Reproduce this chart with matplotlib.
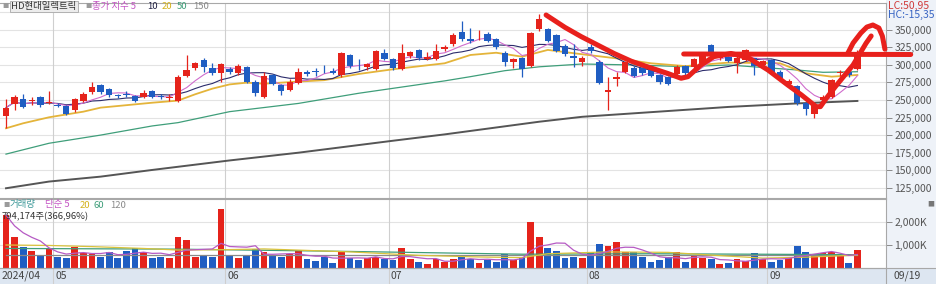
import matplotlib
matplotlib.use("Agg")
import matplotlib.pyplot as plt
from matplotlib.patches import Rectangle
import numpy as np
import pandas as pd

plt.rcParams['font.family'] = ['Noto Sans CJK KR', 'DejaVu Sans']
NUMFONT = ['Liberation Sans Narrow', 'Noto Sans CJK KR', 'DejaVu Sans']

# ---------------- data (prices in KRW thousands, volume in K shares) ----------------
month_labels = ['2024/04', '05', '06', '07', '08', '09']
month_start_idx = [0, 6, 26, 45, 68, 89]
last_date_label = '09/19'

opens = [227, 244, 251, 249, 253.7, 246, 243, 241.8, 235.7, 249,
         260.8, 271.6, 265.5, 257, 258, 255.6, 253.7, 262.7, 256, 253,
         248.9, 284, 295.3, 306.7, 295, 288.7, 293.9, 287.8, 296.3, 276,
         254.6, 285.4, 271.6, 264.5, 274.5, 290.1, 290, 293.8, 291, 285.4,
         313.8, 297, 296.3, 293.9, 317, 308, 294, 312.8, 320.9, 308,
         308, 322.3, 329, 346.9, 336, 343, 343.6, 336.5, 317, 303.4,
         309, 298.2, 350.3, 350.3, 342, 326.6, 312.4, 303.4, 325.6, 304.3,
         261, 279.3, 290, 295, 295.8, 292.5, 285.4, 282, 286.4, 298.6,
         297, 302.9, 328, 309, 311.4, 302, 306.7, 309, 299.6, 306.7,
         290.1, 272.6, 269.8, 245, 230, 249.9, 254.6, 288, 290, 293.5]
highs = [251, 257, 258, 254, 256, 263, 245, 243, 253, 261,
         275, 273, 267, 259, 263, 257, 264, 264, 258, 258,
         285, 314, 304, 310, 302, 302, 297, 301, 298, 278,
         290, 287, 273, 279, 296, 292, 295, 299, 296, 318,
         315, 307.7, 303, 321, 323, 310, 329, 320, 323, 318,
         330, 328, 345, 362.5, 352, 349, 346, 338, 319, 309,
         311, 347, 372, 352, 344, 330, 330, 313, 330, 307,
         282, 290, 305, 298, 297, 294, 287, 284, 299, 300,
         309, 318, 330, 315, 313, 312, 323, 310, 307, 308,
         292, 280, 271, 247, 244, 257, 280, 292, 292, 321]
lows = [210, 235.7, 238, 243, 240, 244, 240, 228, 233, 247,
        258, 259, 254, 253, 254, 247, 252, 252, 251, 249,
        247, 282, 293, 290, 286, 276, 287, 285, 274, 255,
        252, 271, 257, 262, 272, 284, 284, 288, 287, 283,
        296, 293, 292, 292, 306, 292, 292, 310, 307, 306,
        306, 320, 327, 334, 331, 335, 332, 323, 298, 295,
        283, 297, 348, 332, 318, 313, 297, 298, 316, 272,
        236, 270, 288, 282, 285, 282, 272, 271, 284, 286,
        295, 301, 314, 306, 304, 288.7, 305, 285.4, 297, 288,
        279, 270, 243, 228, 225, 247, 252, 284, 283, 292]
closes = [239, 254.6, 240, 250, 242.8, 246.5, 241.8, 230, 251, 258.4,
          268.8, 261, 256.5, 255.6, 257, 248.9, 260.3, 253.7, 253.7, 254,
          283, 292.5, 302.9, 296.3, 287.8, 300.6, 289.2, 298.2, 276, 259.4,
          284, 272.6, 263.1, 275.9, 290.1, 286.4, 289.6, 293.5, 288.7, 317,
          298.2, 296.3, 301, 319.5, 308, 294.9, 317, 317.6, 310, 311.4,
          320, 325.6, 342, 336, 333.7, 343.6, 334, 325.6, 304.3, 307.7,
          293.5, 345.5, 364.5, 334, 320, 314.8, 309, 309.7, 319.5, 274.5,
          264, 283, 304, 284, 287.8, 284.4, 275, 272.6, 297.3, 287.8,
          307.7, 316, 316, 312, 305.7, 310, 321, 298.2, 305.7, 290.1,
          280.7, 277, 245, 237, 242.8, 254.6, 278.3, 290.1, 285.4, 313.8]
volumes = [2300, 1360, 930, 740, 540, 810, 490, 450, 930, 670,
           610, 490, 680, 450, 740, 860, 710, 420, 490, 420,
           1340, 1220, 500, 580, 500, 2560, 530, 420, 520, 810,
           710, 520, 490, 590, 780, 380, 320, 490, 200, 740,
           420, 350, 420, 490, 380, 350, 860, 390, 240, 170,
           390, 280, 390, 570, 380, 230, 330, 280, 590, 330,
           490, 1990, 1330, 880, 740, 450, 470, 450, 710, 1040,
           970, 1120, 680, 680, 470, 280, 330, 460, 680, 280,
           570, 430, 380, 170, 200, 380, 320, 640, 390, 280,
           330, 450, 960, 680, 590, 640, 710, 590, 200, 794]

# longer moving averages (index, value)
ma20_idx = [0, 2, 5, 9, 11, 17, 20, 22, 24, 26, 28, 30, 34, 37, 41, 45, 51, 54, 57, 60,
            63, 67, 71, 75, 79, 84, 90, 93, 96, 99]
ma20_val = [209.7, 216.8, 225.3, 233.3, 239, 246, 249, 258, 266, 272, 274.5, 273, 276, 278,
            286.8, 293.5, 302, 313.8, 317, 311.4, 321, 314.8, 309, 302, 298, 303, 302,
            287.8, 283, 285.4]
ma50_idx = [0, 5, 11, 17, 20, 26, 34, 41, 51, 54, 58, 62, 67, 73, 79, 84, 92, 95, 99]
ma50_val = [173, 188.4, 200, 213, 217.7, 233.3, 245, 259.4, 277, 283, 291.5, 297, 301,
            299.6, 297.2, 299.6, 292.5, 289.2, 290]
ma150_idx = [0, 5, 11, 17, 26, 34, 45, 51, 62, 67, 84, 92, 99]
ma150_val = [124.5, 134, 141, 150.5, 164, 175, 192, 201, 219, 226, 240, 245, 248.5]

vma20_idx = [0, 5, 10, 16, 20, 26, 30, 40, 48, 55, 60, 63, 70, 77, 82, 88, 93, 99]
vma20_val = [1000, 980, 930, 850, 780, 800, 830, 700, 550, 480, 450, 620, 700, 680, 560,
             430, 470, 560]
vma60_idx = [0, 20, 40, 60, 75, 99]
vma60_val = [850, 820, 720, 600, 620, 580]
vma120_idx = [0, 50, 99]
vma120_val = [560, 560, 560]

# hand-drawn red annotation strokes (index, price)
anno_curve_x = [62.8, 65.0, 66.9, 70.7, 72.7, 74.6, 76.9, 78.5, 79.3, 80.8, 82.3, 84.3,
                86.3, 88.6, 90.9, 92.5, 94.2, 94.7, 95.3, 96.5, 98.5, 100.0, 100.6]
anno_curve_y = [370.6, 353, 339.8, 316, 305, 297, 287.8, 280.7, 283, 299.6, 311.4, 316,
                310, 292.5, 271.2, 257, 240.4, 240.4, 250.9, 269.8, 299.6, 330.4, 340.8]
anno_hook_x = [97.9, 98.5, 99.4, 100.1, 100.8, 101.5, 101.9, 102.2]
anno_hook_y = [316.6, 330.8, 345, 353.5, 356.4, 352.1, 340.8, 322]
anno_hline_x = [78.8, 105.2]
anno_hline_y = [315.2, 314.5]

# ---------------- layout ----------------
W, H = 936, 284
fig = plt.figure(figsize=(W / 100, H / 100), dpi=100)
fig.patch.set_facecolor('white')

def fx(px):
    return px / W

def fy(py):
    return 1 - py / H

PX0, PSTEP = 6.0, 8.6
def idx_of_px(px):
    return (px - PX0) / PSTEP

XL = (idx_of_px(0), idx_of_px(886))

fig.patches.append(Rectangle((fx(886), fy(268)), fx(50), 268 / H, transform=fig.transFigure,
                             facecolor='#eef2f8', edgecolor='none', zorder=-2))
fig.patches.append(Rectangle((0, 0), 1, 16 / H, transform=fig.transFigure,
                             facecolor='#dde6f1', edgecolor='none', zorder=-2))

RED = '#e5231b'
BLUE = '#1f5dc2'
GRID = '#e3e3e3'
SEP = '#cfcfcf'
SPINE = '#a8a8a8'

def price_at(py):
    return 350 - (py - 29.5) * (25 / 17.6)

axp = fig.add_axes([0, fy(198), fx(886), 195 / H])
axv = fig.add_axes([0, fy(268), fx(886), 69 / H])
axp.set_zorder(3)
axv.set_zorder(2)

o = np.array(opens); h = np.array(highs); l = np.array(lows); c = np.array(closes)
n = len(c)
x = np.arange(n)
up = c >= o
cols = np.where(up, RED, BLUE)

axp.set_xlim(*XL)
axp.set_ylim(price_at(198), price_at(3))
for lv in range(125, 400, 25):
    axp.axhline(lv, color=GRID, lw=0.8, zorder=0)
for si in month_start_idx[1:]:
    axp.axvline(si - 0.5, color=SEP, lw=0.8, zorder=0)

axp.vlines(x, l, h, colors=cols, lw=0.9, zorder=2)
body = np.maximum(np.abs(c - o), 0.8)
axp.bar(x, body, bottom=np.minimum(o, c), width=0.76, color=cols, zorder=3, linewidth=0)

cs = pd.Series(c)
ma5 = cs.rolling(5, min_periods=1).mean()
ma10 = cs.rolling(10, min_periods=1).mean()
axp.plot(ma150_idx, ma150_val, color='#555555', lw=1.4, zorder=1.5)
axp.plot(ma50_idx, ma50_val, color='#3f9e7a', lw=0.9, zorder=1.5)
axp.plot(ma20_idx, ma20_val, color='#e4b43a', lw=1.3, zorder=1.5)
axp.plot(x, ma10, color='#2b2b6b', lw=0.8, zorder=1.6)
axp.plot(x, ma5, color='#cf6ccc', lw=0.8, zorder=1.6)

axp.yaxis.tick_right()
ticks = list(range(125, 375, 25))
axp.set_yticks(ticks)
axp.set_yticklabels([f"{t*1000:,}" for t in ticks], fontfamily=NUMFONT)
axp.tick_params(axis='y', length=4, width=0.7, color='#8a8a8a', labelsize=7.5,
                labelcolor='#555555', pad=2)
axp.set_xticks([])
for sp in axp.spines.values():
    sp.set_color(SPINE); sp.set_linewidth(0.8)
axp.spines['left'].set_visible(False)

ann_kw = dict(color='#e8201c', lw=3.6, solid_capstyle='round', solid_joinstyle='round',
              clip_on=False, zorder=10)
axp.plot(anno_hline_x, anno_hline_y, **ann_kw)
axp.plot(anno_curve_x, anno_curve_y, **ann_kw)
axp.plot(anno_hook_x, anno_hook_y, **ann_kw)

v = np.array(volumes)
axv.set_xlim(*XL)
axv.set_ylim(0, 3000)
for lv in (1000, 2000):
    axv.axhline(lv, color=GRID, lw=0.8, zorder=0)
axv.bar(x, v, width=0.78, color=cols, zorder=2, linewidth=0)
vs = pd.Series(v)
vma5 = vs.rolling(5, min_periods=1).mean()
axv.plot(vma120_idx, vma120_val, color='#8a8a8a', lw=0.9, zorder=3)
axv.plot(vma60_idx, vma60_val, color='#3f9e7a', lw=0.9, zorder=3)
axv.plot(vma20_idx, vma20_val, color='#d9c23c', lw=0.9, zorder=3)
axv.plot(x, vma5, color='#b65ac4', lw=0.9, zorder=3)
axv.yaxis.tick_right()
axv.set_yticks([1000, 2000])
axv.set_yticklabels(['1,000K', '2,000K'], fontfamily=NUMFONT)
axv.tick_params(axis='y', length=4, width=0.7, color='#8a8a8a', labelsize=7.5,
                labelcolor='#555555', pad=2)
axv.set_xticks([])
for sp in axv.spines.values():
    sp.set_color(SPINE); sp.set_linewidth(0.8)
axv.spines['left'].set_visible(False)

trv = axv.get_xaxis_transform()
for si in month_start_idx[1:]:
    axv.plot([si - 0.5, si - 0.5], [-16 / 69, 1], color=SEP, lw=0.8, transform=trv,
             clip_on=False, zorder=0)
for lab, si in zip(month_labels, month_start_idx):
    xx = si - 0.5 + 0.25 if si > 0 else idx_of_px(2)
    axv.text(xx, -8 / 69, lab, transform=trv, fontsize=7.5, color='#444444',
             ha='left', va='center', fontfamily=NUMFONT)
fig.text(fx(893), fy(276), last_date_label, fontsize=7.5, color='#444444', ha='left',
         va='center', fontfamily=NUMFONT)
fig.lines.append(plt.Line2D([fx(886), fx(886)], [0, fy(268)], transform=fig.transFigure,
                            color=SPINE, lw=0.8))
fig.lines.append(plt.Line2D([0, 1], [fy(268), fy(268)], transform=fig.transFigure,
                            color=SPINE, lw=0.8))

HFS = 6.8
fig.text(fx(2), fy(6.5), '■', fontsize=4.5, color='#9a9a9a', va='center', zorder=20)
fig.text(fx(11), fy(6.5), 'HD현대일렉트릭', fontsize=HFS, color='#333333', va='center',
         zorder=20, bbox=dict(boxstyle='square,pad=0.15', facecolor='#ececec',
                              edgecolor='#a8a8a8', lw=0.6))
fig.text(fx(85), fy(6.5), '■', fontsize=4.5, color='#9a9a9a', va='center', zorder=20)
fig.text(fx(92), fy(6.5), '종가 지수 5', fontsize=HFS, color='#c455c4', va='center', zorder=20)
fig.text(fx(147), fy(6.5), '10', fontsize=HFS, color='#222244', va='center', zorder=20)
fig.text(fx(162), fy(6.5), '20', fontsize=HFS, color='#d4b21c', va='center', zorder=20)
fig.text(fx(177), fy(6.5), '50', fontsize=HFS, color='#3f9e7a', va='center', zorder=20)
fig.text(fx(193), fy(6.5), '150', fontsize=HFS, color='#8a8a8a', va='center', zorder=20)

fig.text(fx(3), fy(205), '■', fontsize=4.5, color='#9a9a9a', va='center', zorder=20)
fig.text(fx(10), fy(205), '거래량', fontsize=HFS, color='#3f9a9a', va='center', zorder=20)
fig.text(fx(45), fy(205), '단순 5', fontsize=HFS, color='#c455c4', va='center', zorder=20)
fig.text(fx(80), fy(205), '20', fontsize=HFS, color='#d4b21c', va='center', zorder=20)
fig.text(fx(94), fy(205), '60', fontsize=HFS, color='#3f9e7a', va='center', zorder=20)
fig.text(fx(110), fy(205), '120', fontsize=HFS, color='#8a8a8a', va='center', zorder=20)
fig.text(fx(2), fy(216.5), '794,174주(366,96%)', fontsize=HFS, color='#333333',
         va='center', zorder=20)

fig.text(fx(888), fy(5.5), 'LC:50,95', fontsize=7.5, color='#d03a3a', va='center',
         fontfamily=NUMFONT, zorder=20)
fig.text(fx(888), fy(15), 'HC:-15,35', fontsize=7.5, color='#3a66c4', va='center',
         fontfamily=NUMFONT, zorder=20)
fig.text(fx(927), fy(204), '■', fontsize=5, color='#777777', va='center', zorder=20)

fig.savefig('out.png', dpi=100)
